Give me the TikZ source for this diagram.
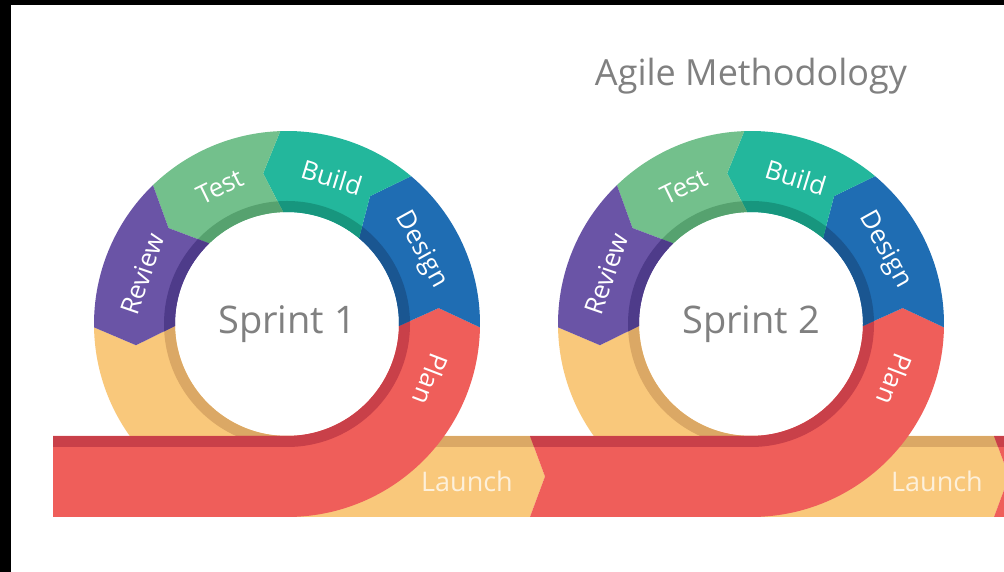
\documentclass[tikz,border=0pt]{standalone}
\usepackage{fontspec}
\setmainfont{Open Sans}
\definecolor{cred}{HTML}{EF5E5A}
\definecolor{cdred}{HTML}{C94049}
\definecolor{cyel}{HTML}{F9C87B}
\definecolor{cdyel}{HTML}{DBA865}
\definecolor{cpur}{HTML}{6A54A6}
\definecolor{cdpur}{HTML}{4E3B8A}
\definecolor{cgrn}{HTML}{73C08C}
\definecolor{cdgrn}{HTML}{56A26F}
\definecolor{ctea}{HTML}{23B79C}
\definecolor{cdtea}{HTML}{17967E}
\definecolor{cblu}{HTML}{1F6DB3}
\definecolor{cdblu}{HTML}{1A5691}
\definecolor{ctxt}{HTML}{808080}
\definecolor{claunch}{HTML}{FDF0DA}
\tikzset{
  seglabel/.style={text=white, font=\fontsize{26}{26}\selectfont, inner sep=0pt},
  launchlabel/.style={text=claunch, font=\fontsize{27}{27}\selectfont, inner sep=0pt},
  sprintlabel/.style={text=ctxt, font=\fontsize{38}{38}\selectfont, inner sep=0pt, anchor=base},
  titlelabel/.style={text=ctxt, font=\fontsize{36}{36}\selectfont, inner sep=0pt, anchor=base},
}
% ring segment from angle #1 to #2 (chevron tip at #2, notch at #1)
\newcommand\ringseg[4]{%
  \begin{scope}
    \clip (#1:193pt) arc[start angle=#1, end angle=#2, radius=193pt]
      -- (#2+7:152.5pt) -- (#2:112pt) arc[start angle=#2, end angle=#1, radius=112pt]
      -- (#1+7:152.5pt) -- cycle;
    \fill[#3] (0,0) circle (200pt);
    \fill[#4] (0,0) circle (123pt);
  \end{scope}}
% yellow launch ribbon
\newcommand\launchband{%
  \begin{scope}
    \clip (181:193pt) arc[start angle=181, end angle=270, radius=193pt]
      -- (243,-193) -- (258,-152.5) -- (243,-112) -- (0,-112)
      arc[start angle=270, end angle=181, radius=112pt] -- (188:152.5pt) -- cycle;
    \fill[cyel] (-250,-250) rectangle (300,250);
    \fill[cdyel] (0,0) circle (123pt);
    \fill[cdyel] (0,-123) rectangle (300,-112);
  \end{scope}}
% red plan ribbon, left end at #1, #2 = extra left-end points
\newcommand\planband[2]{%
  \begin{scope}
    \clip (#1,-112) -- (0,-112) arc[start angle=270, end angle=359, radius=112pt]
      -- (366:152.5pt) -- (359:193pt) arc[start angle=359, end angle=270, radius=193pt]
      -- (#1,-193) #2 -- cycle;
    \fill[cred] (-300,-250) rectangle (250,250);
    \fill[cdred] (0,0) circle (123pt);
    \fill[cdred] (-300,-123) rectangle (0,-112);
  \end{scope}}
\begin{document}
\begin{tikzpicture}[x=1pt,y=1pt]
  \useasboundingbox (0,0) rectangle (1004,572);
  \clip (0,0) rectangle (1004,572);
  \fill[white] (0,0) rectangle (1004,572);

  % ---- Sprint 1 ----
  \begin{scope}[shift={(287,248)}]
    \launchband
    \planband{-234}{}
    \ringseg{-1}{50}{cblu}{cdblu}
    \ringseg{50}{92}{ctea}{cdtea}
    \ringseg{92}{134}{cgrn}{cdgrn}
    \ringseg{134}{181}{cpur}{cdpur}
    \node[seglabel, rotate=71]   (rev1) at (161:153pt) {Review};
    \node[seglabel, rotate=26]   (tst1) at (116:153pt) {Test};
    \node[seglabel, rotate=-17]  (bld1) at (73:153pt) {Build};
    \node[seglabel, rotate=-61]  (dsg1) at (29:153pt) {Design};
    \node[seglabel, rotate=-111] (pln1) at (-21:154pt) {Plan};
    \node[launchlabel] (lch1) at (180,-157) {Launch};
    \node[sprintlabel] (spr1) at (0,-10) {Sprint 1};
  \end{scope}

  % ---- Sprint 2 ----
  \begin{scope}[shift={(751,248)}]
    \launchband
    \planband{-221}{-- (-206,-152.5)}
    \ringseg{-1}{50}{cblu}{cdblu}
    \ringseg{50}{92}{ctea}{cdtea}
    \ringseg{92}{134}{cgrn}{cdgrn}
    \ringseg{134}{181}{cpur}{cdpur}
    \node[seglabel, rotate=71]   (rev2) at (161:153pt) {Review};
    \node[seglabel, rotate=26]   (tst2) at (116:153pt) {Test};
    \node[seglabel, rotate=-17]  (bld2) at (73:153pt) {Build};
    \node[seglabel, rotate=-61]  (dsg2) at (29:153pt) {Design};
    \node[seglabel, rotate=-111] (pln2) at (-21:154pt) {Plan};
    \node[launchlabel] (lch2) at (186,-157) {Launch};
    \node[sprintlabel] (spr2) at (0,-10) {Sprint 2};
  \end{scope}

  % ---- start of next sprint ----
  \begin{scope}[shift={(1215,248)}]
    \planband{-221}{-- (-206,-152.5)}
  \end{scope}

  \node[titlelabel] (title) at (751,486) {Agile Methodology};

  % black frame edges
  \fill[black] (0,567) rectangle (1004,572);
  \fill[black] (0,0) rectangle (11,572);
\end{tikzpicture}
\end{document}
